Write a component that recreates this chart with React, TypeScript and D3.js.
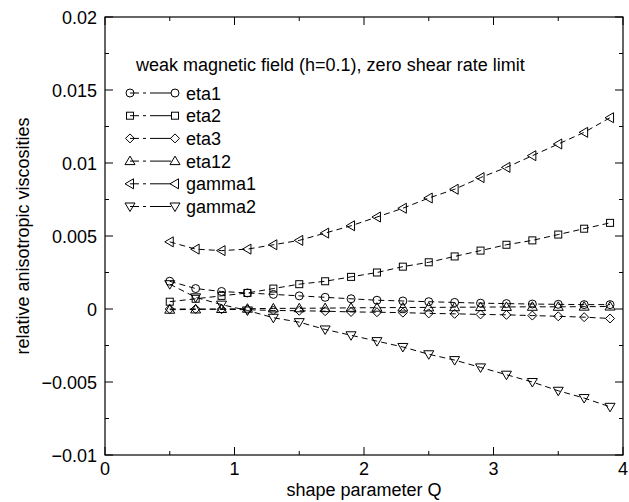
import React from "react";
import * as d3 from "d3";

const Q = [0.5, 0.7, 0.9, 1.1, 1.3, 1.5, 1.7, 1.9, 2.1, 2.3, 2.5, 2.7, 2.9, 3.1, 3.3, 3.5, 3.7, 3.9];
const eta1 = [0.0019, 0.0014, 0.0012, 0.0011, 0.001, 0.0009, 0.0008, 0.0007, 0.0006, 0.00055, 0.0005, 0.00045, 0.0004, 0.00037, 0.00034, 0.00032, 0.0003, 0.0003];
const eta2 = [0.0005, 0.0007, 0.0009, 0.0011, 0.0014, 0.0017, 0.0019, 0.0022, 0.0025, 0.0029, 0.0032, 0.0036, 0.004, 0.0044, 0.0047, 0.0051, 0.0055, 0.0059];
const eta3 = [0.0, 0.0, -0.00002, -0.00005, -0.0001, -0.00012, -0.00015, -0.0002, -0.00022, -0.00025, -0.0003, -0.00033, -0.00037, -0.0004, -0.00045, -0.0005, -0.00056, -0.00065];
const eta12 = [-0.00005, -0.00003, 0, 0.00002, 0.00004, 0.00005, 0.00006, 0.00008, 0.00009, 0.0001, 0.00011, 0.00012, 0.00013, 0.00014, 0.00015, 0.00015, 0.00016, 0.00017];
const gamma1 = [0.0046, 0.0041, 0.004, 0.0041, 0.0044, 0.0047, 0.0052, 0.0057, 0.0063, 0.0069, 0.0076, 0.0082, 0.009, 0.0097, 0.0105, 0.0113, 0.0121, 0.0131];
const gamma2 = [0.0017, 0.0008, 0.0003, -0.0001, -0.0006, -0.0009, -0.0014, -0.0018, -0.0022, -0.0026, -0.0031, -0.0035, -0.004, -0.0045, -0.005, -0.0056, -0.0061, -0.0067];

const seriesNames = ["eta1", "eta2", "eta3", "eta12", "gamma1", "gamma2"];
const seriesValues = [eta1, eta2, eta3, eta12, gamma1, gamma2];
const markers = ["circle", "square", "diamond", "up", "left", "down"];

const xTicks = [0, 1, 2, 3, 4];
const xMinor = [0.5, 1.5, 2.5, 3.5];
const yTicks = [-0.01, -0.005, 0, 0.005, 0.01, 0.015, 0.02];
const yTickLabels = ["\u22120.01", "\u22120.005", "0", "0.005", "0.01", "0.015", "0.02"];
const yMinor = [-0.0075, -0.0025, 0.0025, 0.0075, 0.0125, 0.0175];

const legendTitle = "weak magnetic field (h=0.1), zero shear rate limit";
const xLabel = "shape parameter Q";
const yLabel = "relative anisotropic viscosities";

const L = 105, R = 623, T = 17, B = 455;
const font = "'Liberation Sans', Arial, Helvetica, sans-serif";
const FS = 18;

function Marker({ type, x, y }: { type: string; x: number; y: number }) {
  const s = 4;
  const common = { fill: "none", stroke: "black", strokeWidth: 1 };
  if (type === "circle") return <circle cx={x} cy={y} r={s} {...common} />;
  if (type === "square") return <rect x={x - s + 0.5} y={y - s + 0.5} width={2 * s - 1} height={2 * s - 1} {...common} />;
  if (type === "diamond")
    return <path d={`M${x},${y - s - 0.5}L${x + s + 0.5},${y}L${x},${y + s + 0.5}L${x - s - 0.5},${y}Z`} {...common} />;
  if (type === "up")
    return <path d={`M${x},${y - s - 1}L${x + s + 1},${y + s - 0.5}L${x - s - 1},${y + s - 0.5}Z`} {...common} />;
  if (type === "down")
    return <path d={`M${x},${y + s + 1}L${x + s + 1},${y - s + 0.5}L${x - s - 1},${y - s + 0.5}Z`} {...common} />;
  return <path d={`M${x - s - 1},${y}L${x + s - 0.5},${y - s - 1}L${x + s - 0.5},${y + s + 1}Z`} {...common} />;
}

export default function App() {
  const x = d3.scaleLinear().domain([0, 4]).range([L, R]);
  const y = d3.scaleLinear().domain([-0.01, 0.02]).range([B, T]);
  const line = d3
    .line<number>()
    .x((_, i) => x(Q[i]))
    .y((d) => y(d));

  const legX0 = 130, legX1 = 175, legText = 186, legY0 = 93, legDy = 22.7;

  return (
    <svg width={629} height={502} style={{ position: "absolute", left: 0, top: 0, background: "white" }}>
      <rect x={0} y={0} width={629} height={502} fill="white" />
      <rect x={L} y={T} width={R - L} height={B - T} fill="none" stroke="black" strokeWidth={1.2} />
      {xTicks.map((t) => (
        <g key={"xt" + t}>
          <line x1={x(t)} x2={x(t)} y1={B} y2={B - 8} stroke="black" />
          <line x1={x(t)} x2={x(t)} y1={T} y2={T + 8} stroke="black" />
          <text x={x(t)} y={B + 20} textAnchor="middle" fontFamily={font} fontSize={FS}>
            {t}
          </text>
        </g>
      ))}
      {xMinor.map((t) => (
        <g key={"xm" + t}>
          <line x1={x(t)} x2={x(t)} y1={B} y2={B - 4} stroke="black" />
          <line x1={x(t)} x2={x(t)} y1={T} y2={T + 4} stroke="black" />
        </g>
      ))}
      {yTicks.map((t, i) => (
        <g key={"yt" + t}>
          <line x1={L} x2={L + 8} y1={y(t)} y2={y(t)} stroke="black" />
          <line x1={R} x2={R - 8} y1={y(t)} y2={y(t)} stroke="black" />
          <text x={L - 8} y={y(t) + 6.5} textAnchor="end" fontFamily={font} fontSize={FS}>
            {yTickLabels[i]}
          </text>
        </g>
      ))}
      {yMinor.map((t) => (
        <g key={"ym" + t}>
          <line x1={L} x2={L + 4} y1={y(t)} y2={y(t)} stroke="black" />
          <line x1={R} x2={R - 4} y1={y(t)} y2={y(t)} stroke="black" />
        </g>
      ))}
      <text x={(L + R) / 2} y={496} textAnchor="middle" fontFamily={font} fontSize={FS}>
        {xLabel}
      </text>
      <text
        transform={`translate(29,${(T + B) / 2}) rotate(-90)`}
        textAnchor="middle"
        fontFamily={font}
        fontSize={FS}
      >
        {yLabel}
      </text>
      {seriesValues.map((vals, si) => (
        <g key={"s" + si}>
          <path d={line(vals) || ""} fill="none" stroke="black" strokeWidth={1} strokeDasharray="6,4" />
          {vals.map((v, i) => (
            <Marker key={i} type={markers[si]} x={x(Q[i])} y={y(v)} />
          ))}
        </g>
      ))}
      <text x={136} y={71} fontFamily={font} fontSize={FS}>
        {legendTitle}
      </text>
      {seriesNames.map((n, i) => {
        const yy = legY0 + i * legDy;
        return (
          <g key={"l" + n}>
            <line x1={legX0} x2={legX1 - 4} y1={yy} y2={yy} stroke="black" strokeDasharray="9,4,3,4,21" />
            <Marker type={markers[i]} x={legX0} y={yy} />
            <Marker type={markers[i]} x={legX1} y={yy} />
            <text x={legText} y={yy + 6.5} fontFamily={font} fontSize={FS}>
              {n}
            </text>
          </g>
        );
      })}
    </svg>
  );
}
